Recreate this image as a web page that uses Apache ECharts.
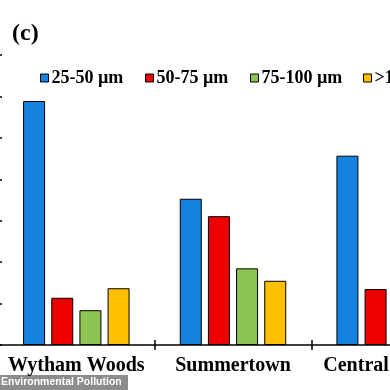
<!DOCTYPE html>
<html>
<head>
<meta charset="utf-8">
<script src="https://cdn.jsdelivr.net/npm/echarts@6/dist/echarts.min.js"></script>
<style>
html,body{margin:0;padding:0;background:#fff;}
#chart{width:390px;height:390px;}
</style>
</head>
<body>
<div id="chart"></div>
<script>
const categories = ['Wytham Woods', 'Summertown', 'Central Oxford'];
const seriesNames = ['25-50 µm', '50-75 µm', '75-100 µm', '>100 µm'];
const s25_50 = [5.89, 3.53, 4.57];
const s50_75 = [1.14, 3.11, 1.35];
const s75_100 = [0.84, 1.85, 1.0];
const s100 = [1.37, 1.55, 1.2];
const colors = ['#1682E0', '#EE0000', '#8EC552', '#FFC000'];
const yTicks = [0, 1, 2, 3, 4, 5, 6, 7];

const serif = '"Liberation Serif", "Times New Roman", serif';
const values = [s25_50, s50_75, s75_100, s100];
const legendLefts = [40, 145, 250, 363];

const chart = echarts.init(document.getElementById('chart'));
chart.setOption({
  animation: false,
  backgroundColor: '#fff',
  graphic: [
    { type: 'text', left: 12, top: 22, style: { text: '(c)', font: 'bold 24px ' + serif, fill: '#000' } },
    { type: 'rect', left: 0, top: 375, shape: { width: 128, height: 15 }, style: { fill: 'rgba(120,120,120,0.85)' } },
    { type: 'text', left: 1, top: 377, style: { text: 'Environmental Pollution', font: 'bold 10.5px "Liberation Sans", Arial, sans-serif', fill: '#fff' } }
  ],
  legend: seriesNames.map((n, i) => ({
    top: 69,
    left: legendLefts[i],
    itemWidth: 8,
    itemHeight: 8,
    icon: 'rect',
    padding: 0,
    textStyle: { fontFamily: serif, fontWeight: 'bold', fontSize: 18, color: '#000', padding: [0, 0, 0, -2] },
    data: [{ name: n, itemStyle: { color: colors[i], borderColor: '#000', borderWidth: 1 } }]
  })),
  grid: { left: -2, top: 55, width: 470, bottom: 45, containLabel: false, outerBoundsMode: 'none' },
  xAxis: [{
    type: 'category',
    data: categories,
    axisLine: { lineStyle: { color: '#000', width: 1.5 } },
    axisTick: { show: true, length: 5, lineStyle: { color: '#000', width: 1.5 } },
    axisLabel: { interval: 0, fontFamily: serif, fontWeight: 'bold', fontSize: 20, color: '#000', margin: 11 }
  }, {
    type: 'category',
    data: categories,
    position: 'bottom',
    axisLine: { show: false },
    axisTick: { show: true, inside: true, length: 5, lineStyle: { color: '#000', width: 1.5 } },
    axisLabel: { show: false }
  }],
  yAxis: {
    type: 'value',
    min: yTicks[0],
    max: yTicks[yTicks.length - 1],
    interval: 1,
    axisLine: { show: true, lineStyle: { color: '#000', width: 1.5 } },
    axisTick: { show: true, inside: true, length: 4, lineStyle: { color: '#000', width: 1.5 } },
    axisLabel: { show: false },
    splitLine: { show: false }
  },
  series: seriesNames.map((n, i) => ({
    name: n,
    type: 'bar',
    data: values[i],
    barWidth: 22,
    barGap: '28%',
    itemStyle: { color: colors[i], borderColor: '#000', borderWidth: 1 }
  }))
});
</script>
</body>
</html>
